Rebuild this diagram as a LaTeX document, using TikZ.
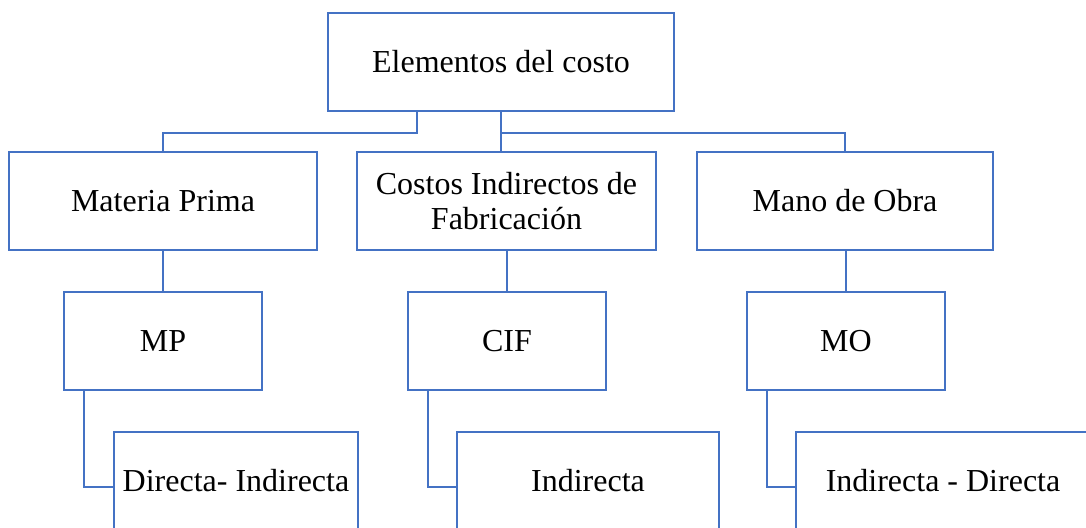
\documentclass[tikz,border=0pt]{standalone}
\usepackage{fontspec}
\setmainfont{Liberation Serif}
\definecolor{boxblue}{HTML}{4472C4}
\tikzset{
  box/.style={draw=boxblue, line width=2.8pt, fill=white, inner sep=0pt, outer sep=0pt,
    minimum height=98pt, font=\fontsize{32}{35}\selectfont,
    text height=24pt, text depth=4pt, anchor=center},
  twoline/.style={draw=boxblue, line width=2.8pt, fill=white, inner sep=0pt, outer sep=0pt,
    minimum height=98pt, font=\fontsize{32}{35}\selectfont, align=center, anchor=center},
  link/.style={draw=boxblue, line width=2.8pt}
}
\begin{document}
\begin{tikzpicture}[x=1pt, y=-1pt]
\useasboundingbox (0,0) rectangle (1086,527);
\clip (0,0) rectangle (1086,527);
\fill[white] (0,0) rectangle (1086,527);

\node[box, minimum width=346pt] (top) at (501,62) {Elementos del costo};

\node[box, minimum width=308pt] (matp) at (163,201) {Materia Prima};
\node[twoline, minimum width=299pt] (cifb) at (506.5,201) {Costos Indirectos de\\Fabricación};
\node[box, minimum width=296pt] (mano) at (845,201) {Mano de Obra};

\node[box, minimum width=198pt] (mp) at (163,341) {MP};
\node[box, minimum width=198pt] (cif) at (507,341) {CIF};
\node[box, minimum width=198pt] (mo) at (846,341) {MO};

\node[box, minimum width=244pt] (dir) at (236,481) {Directa- Indirecta};
\node[box, minimum width=262pt] (ind) at (588,481) {Indirecta};
\node[box, minimum width=294pt] (inddir) at (943,481) {Indirecta - Directa};

\coordinate (bar) at ([yshift=19pt]mano.north);

\draw[link] ([xshift=-84pt]top.south) |- (bar -| matp.north) -- (matp.north);
\draw[link] (top.south) -- (top.south |- matp.north);
\draw[link] (top.south |- bar) -| (mano.north);

\draw[link] (matp.south) -- (mp.north);
\draw[link] (cif.north |- mano.south) -- (cif.north);
\draw[link] (mano.south -| mo.north) -- (mo.north);

\draw[link] ([xshift=-79pt]mp.south) |- ([yshift=-6pt]dir.west);
\draw[link] ([xshift=-79pt]cif.south) |- ([yshift=-6pt]ind.west);
\draw[link] ([xshift=-79pt]mo.south) |- ([yshift=-6pt]inddir.west);
\end{tikzpicture}
\end{document}
